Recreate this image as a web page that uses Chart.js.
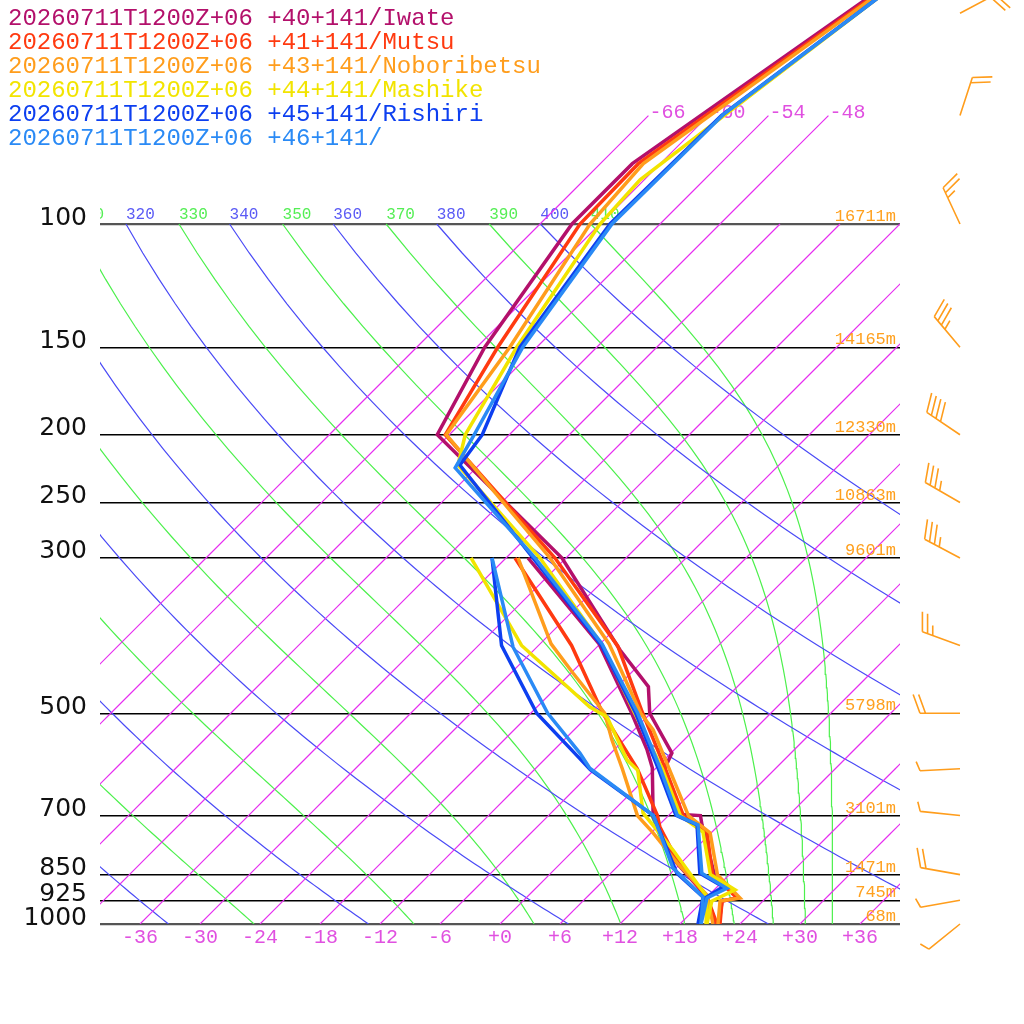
<!DOCTYPE html>
<html>
<head>
<meta charset="utf-8">
<title>Skew-T 20260711T1200Z+06</title>
<script src="https://cdn.jsdelivr.net/npm/chart.js@4.4.1/dist/chart.umd.min.js"></script>
<style>
  html, body { margin: 0; padding: 0; background: #fff; }
  #wrap { width: 1024px; height: 1024px; }
</style>
</head>
<body>
<div id="wrap"><canvas id="skewt" width="1024" height="1024"></canvas></div>
<script>
// ============================================
// DATA
// ============================================

const runLabel = '20260711T1200Z+06';
const stationNames = ['+40+141/Iwate', '+41+141/Mutsu', '+43+141/Noboribetsu', '+44+141/Mashike', '+45+141/Rishiri', '+46+141/'];
const stationColors = ['#b3106b', '#ff3a10', '#ff9d1c', '#f2e400', '#0d3ff0', '#2a8af5'];

// temperature / dew point profiles, [hPa, degC]
const iwateTemp = [[1000,21.9],[927,19.9],[918,21.2],[850,16.5],[722,10.3],[700,9.2],[697,6.8],[599,0.9],[570,0.1],[500,-6.1],[458,-8.9],[406,-15.4],[300,-30.4],[200,-55.2],[150,-59.2],[100,-62.8],[82,-62.8],[40,-53.6]];
const iwateDew = [[1000,21.6],[915,18.0],[810,11.0],[703,4.6],[598,-0.4],[564,-2.7],[500,-7.9],[398,-18.1],[300,-33.8]];

const mutsuTemp = [[1000,22.0],[927,19.9],[918,21.1],[850,16.3],[741,11.6],[700,7.5],[600,1.0],[500,-6.8],[401,-16.0],[300,-31.1],[200,-54.4],[150,-57.9],[100,-62.0],[82,-62.2],[40,-53.4]];
const mutsuDew = [[1000,21.7],[915,18.0],[810,11.3],[727,6.3],[700,4.9],[600,-1.8],[500,-10.8],[400,-20.7],[300,-35.1]];

const noboribetsuTemp = [[1000,21.8],[927,19.7],[918,21.4],[850,16.8],[741,11.9],[700,8.0],[528,-4.1],[500,-7.0],[398,-17.1],[300,-31.6],[200,-54.3],[150,-56.7],[100,-61.0],[82,-61.7],[40,-53.3]];
const noboribetsuDew = [[1000,21.3],[909,17.8],[818,11.6],[741,6.2],[700,2.9],[600,-3.3],[546,-7.2],[500,-10.6],[438,-17.8],[398,-22.9],[300,-34.8]];

const mashikeTemp = [[1000,20.7],[928,18.9],[894,20.1],[850,16.1],[739,11.1],[700,7.2],[600,0.7],[500,-7.6],[400,-17.6],[300,-32.6],[221,-50.1],[200,-52.4],[150,-56.0],[100,-60.0],[86.5,-60.4],[40,-53.2]];
const mashikeDew = [[1000,20.6],[915,18.0],[784,9.9],[694,3.2],[603,-1.6],[583,-3.7],[506,-10.0],[490,-12.7],[400,-25.7],[300,-39.5]];

const rishiriTemp = [[1000,19.9],[918,17.9],[885,18.6],[846,14.9],[722,9.8],[699,6.7],[600,0.3],[500,-7.5],[400,-17.7],[300,-33.3],[221,-49.9],[200,-50.7],[150,-55.7],[100,-59.0],[70,-58.7],[40,-53.1]];
const rishiriDew = [[1000,19.8],[915,17.6],[846,12.6],[700,4.5],[602,-6.4],[578,-8.8],[500,-17.4],[400,-27.7],[300,-37.4]];

const north46Temp = [[1000,20.1],[918,18.1],[889,19.1],[846,15.1],[722,9.9],[700,6.9],[600,0.5],[500,-7.3],[398,-17.8],[300,-33.1],[223,-50.1],[200,-51.5],[150,-55.4],[100,-58.8],[69.6,-58.6],[40,-53.1]];
const north46Dew = [[1000,20.1],[915,17.6],[832,11.7],[700,4.5],[599,-6.6],[570,-9.1],[500,-16.3],[402,-26.4],[300,-37.4]];

const tempProfiles = [iwateTemp, mutsuTemp, noboribetsuTemp, mashikeTemp, rishiriTemp, north46Temp];
const dewProfiles = [iwateDew, mutsuDew, noboribetsuDew, mashikeDew, rishiriDew, north46Dew];

// winds (deg, kt)
const windLevels = [50, 70, 100, 150, 200, 250, 300, 400, 500, 600, 700, 850, 925, 1000];
const windDirs = [62, 18, 335, 320, 304, 300, 298, 290, 270, 267, 276, 280, 260, 231];
const windSpeeds = [20, 20, 25, 35, 40, 35, 35, 25, 20, 5, 5, 20, 5, 5];

// geopotential heights
const heightLevels = [100, 150, 200, 250, 300, 500, 700, 850, 925, 1000];
const heightLabels = ['16711m', '14165m', '12330m', '10863m', '9601m', '5798m', '3101m', '1471m', '745m', '68m'];

// axes and background lines
const pressureTicks = [1000, 925, 850, 700, 500, 300, 250, 200, 150, 100];
const tempTicks = [-36, -30, -24, -18, -12, -6, 0, 6, 12, 18, 24, 30, 36];
const isotherms = [-66, -60, -54, -48, -42, -36, -30, -24, -18, -12, -6, 0, 6, 12, 18, 24, 30, 36];
const upperIsotherms = [-66, -60, -54, -48];
const dryThetas = [240, 260, 280, 300, 320, 340, 360, 380, 400];
const moistThetas = [250, 270, 290, 310, 330, 350, 370, 390, 410];

const SKEW = 70;          // degC shift per decade of pressure
const TOP_P = 1000 / Math.pow(10, 924 / 700);

const isoColor = '#e62ef0';
const dryColor = '#4a4af6';
const moistColor = '#4cf04c';
const barbColor = '#ff9d1c';
const MONO = '"Liberation Mono", "DejaVu Sans Mono", monospace';

// ============================================
// HELPERS
// ============================================

function skewX(t, p) {
    return t + SKEW * Math.log10(1000 / p);
}

function profile(pairs) {
    return pairs.map(([p, t]) => ({ x: skewX(t, p), y: p }));
}

function levelsBetween(bottom, top, step) {
    const out = [];
    for (let p = bottom; p > top; p -= step) out.push(p);
    out.push(top);
    return out;
}

function dryT(theta, p) {
    return theta * Math.pow(p / 1000, 0.2857) - 273.15;
}

// Bolton theta-e of saturated air
function thetaE(tk, p) {
    const tc = tk - 273.15;
    const es = 6.112 * Math.exp(17.67 * tc / (tc + 243.5));
    if (es > p * 0.5) return Infinity;
    const r = 622 * es / (p - es);
    return tk * Math.pow(1000 / p, 0.2854 * (1 - 0.00028 * r)) *
        Math.exp((3.376 / tk - 0.00254) * r * (1 + 0.00081 * r));
}

function moistT(te, p) {
    let lo = 150, hi = 340;
    for (let i = 0; i < 60; i++) {
        const mid = (lo + hi) / 2;
        if (thetaE(mid, p) > te) hi = mid; else lo = mid;
    }
    return (lo + hi) / 2 - 273.15;
}

function thinLine(data, color) {
    return {
        data,
        borderColor: color,
        backgroundColor: color,
        borderWidth: 1.2,
        pointRadius: 0,
        showLine: true,
        fill: false,
        order: 20
    };
}

// ============================================
// DATASETS
// ============================================

const datasets = [];

isotherms.forEach(t => {
    datasets.push(thinLine(levelsBetween(1000, 100, 50).map(p => ({ x: skewX(t, p), y: p })), isoColor));
});
upperIsotherms.forEach(t => {
    datasets.push(thinLine(levelsBetween(100, 70, 10).map(p => ({ x: skewX(t, p), y: p })), isoColor));
});
dryThetas.forEach(th => {
    datasets.push(thinLine(levelsBetween(1000, 100, 10).map(p => ({ x: skewX(dryT(th, p), p), y: p })), dryColor));
});
moistThetas.forEach(te => {
    datasets.push(thinLine(levelsBetween(1000, 100, 10).map(p => ({ x: skewX(moistT(te, p), p), y: p })), moistColor));
});

stationNames.forEach((name, i) => {
    const common = {
        borderColor: stationColors[i],
        backgroundColor: stationColors[i],
        borderWidth: 3.5,
        pointRadius: 0,
        showLine: true,
        borderJoinStyle: 'miter',
        order: 6 - i
    };
    datasets.push(Object.assign({ label: name + ' T', data: profile(tempProfiles[i]) }, common));
    datasets.push(Object.assign({ label: name + ' Td', data: profile(dewProfiles[i]) }, common));
});

// ============================================
// PLUGINS
// ============================================

const underLabels = {
    id: 'underLabels',
    beforeDatasetsDraw(chart) {
        const ctx = chart.ctx;
        const xs = chart.scales.x, ys = chart.scales.y;
        const area = chart.chartArea;
        const y100 = ys.getPixelForValue(100);

        // theta / theta-e labels along 100 hPa, clipped to the plot
        ctx.save();
        ctx.beginPath();
        ctx.rect(area.left, 0, area.right - area.left, chart.height);
        ctx.clip();
        ctx.font = '16px ' + MONO;
        ctx.textAlign = 'left';
        ctx.textBaseline = 'alphabetic';
        dryThetas.forEach(th => {
            ctx.fillStyle = '#5a5af5';
            ctx.fillText(String(th), xs.getPixelForValue(skewX(dryT(th, 100), 100)), y100 - 5);
        });
        moistThetas.forEach(te => {
            ctx.fillStyle = '#55ee55';
            ctx.fillText(String(te), xs.getPixelForValue(skewX(moistT(te, 100), 100)), y100 - 5);
        });
        ctx.restore();

        // isotherm labels above 100 hPa
        ctx.save();
        ctx.font = '20px ' + MONO;
        ctx.fillStyle = '#e050e0';
        ctx.textAlign = 'left';
        ctx.textBaseline = 'alphabetic';
        const y70 = ys.getPixelForValue(70);
        upperIsotherms.forEach(t => {
            ctx.fillText(String(t), xs.getPixelForValue(skewX(t, 70)) + 1, y70 + 2);
        });
        ctx.restore();
    }
};

function drawBarb(ctx, x0, y0, dir, spd) {
    const rad = dir * Math.PI / 180;
    const ux = Math.sin(rad), uy = -Math.cos(rad);
    const tipX = x0 + 40 * ux, tipY = y0 + 40 * uy;
    const a = Math.atan2(uy, ux) + 70 * Math.PI / 180;
    const bx = Math.cos(a), by = Math.sin(a);
    ctx.beginPath();
    ctx.moveTo(x0, y0);
    ctx.lineTo(tipX, tipY);
    const full = Math.floor(spd / 10);
    let k = 0;
    for (; k < full; k++) {
        const sx = tipX - k * 5.5 * ux, sy = tipY - k * 5.5 * uy;
        ctx.moveTo(sx, sy);
        ctx.lineTo(sx + 20 * bx, sy + 20 * by);
    }
    if (spd % 10 >= 5) {
        const sx = tipX - k * 5.5 * ux, sy = tipY - k * 5.5 * uy;
        ctx.moveTo(sx, sy);
        ctx.lineTo(sx + 10 * bx, sy + 10 * by);
    }
    ctx.stroke();
}

const overlay = {
    id: 'overlay',
    afterDraw(chart) {
        const ctx = chart.ctx;
        const ys = chart.scales.y;
        const area = chart.chartArea;

        // legend
        ctx.save();
        ctx.font = '24px ' + MONO;
        ctx.textAlign = 'left';
        ctx.textBaseline = 'alphabetic';
        stationNames.forEach((name, i) => {
            ctx.fillStyle = stationColors[i];
            ctx.fillText(runLabel + ' ' + name, 8, 25 + i * 24);
        });
        ctx.restore();

        // heights
        ctx.save();
        ctx.font = '17px ' + MONO;
        ctx.fillStyle = '#ffa01e';
        ctx.textAlign = 'right';
        ctx.textBaseline = 'alphabetic';
        heightLevels.forEach((p, i) => {
            ctx.fillText(heightLabels[i], area.right - 4, ys.getPixelForValue(p) - 3);
        });
        ctx.restore();

        // wind barbs
        ctx.save();
        ctx.strokeStyle = barbColor;
        ctx.lineWidth = 1.6;
        windLevels.forEach((p, i) => {
            drawBarb(ctx, area.right + 60, ys.getPixelForValue(p), windDirs[i], windSpeeds[i]);
        });
        ctx.restore();
    }
};

// ============================================
// CHART
// ============================================

new Chart(document.getElementById('skewt'), {
    type: 'scatter',
    data: { datasets },
    options: {
        responsive: false,
        devicePixelRatio: 1,
        animation: false,
        events: [],
        layout: { padding: { left: 0, top: 0, right: 124, bottom: 60 } },
        plugins: { legend: { display: false }, tooltip: { enabled: false } },
        scales: {
            x: {
                type: 'linear',
                min: -40,
                max: 40,
                afterBuildTicks: s => { s.ticks = tempTicks.map(v => ({ value: v })); },
                afterFit: s => { s.height = 40; s.paddingLeft = 0; s.paddingRight = 0; },
                ticks: {
                    callback: v => (v > 0 ? '+' + v : (v === 0 ? '+0' : String(v))),
                    color: '#e050e0',
                    font: { family: MONO, size: 20 },
                    padding: 2,
                    maxRotation: 0,
                    autoSkip: false
                },
                grid: { display: false, drawTicks: false },
                border: { display: false }
            },
            y: {
                type: 'logarithmic',
                reverse: true,
                min: TOP_P,
                max: 1000,
                afterBuildTicks: s => { s.ticks = pressureTicks.map(v => ({ value: v })); },
                afterFit: s => { s.width = 100; s.paddingTop = 0; s.paddingBottom = 0; },
                ticks: {
                    callback: v => String(v),
                    color: '#111',
                    font: { family: 'DejaVu Sans', size: 25 },
                    padding: 13,
                    labelOffset: -6,
                    autoSkip: false
                },
                grid: {
                    drawTicks: false,
                    color: c => (c.tick && (c.tick.value === 100 || c.tick.value === 1000) ? '#555' : '#000'),
                    lineWidth: c => (c.tick && (c.tick.value === 100 || c.tick.value === 1000) ? 2.2 : 1.5)
                },
                border: { display: false }
            }
        }
    },
    plugins: [underLabels, overlay]
});
</script>
</body>
</html>
